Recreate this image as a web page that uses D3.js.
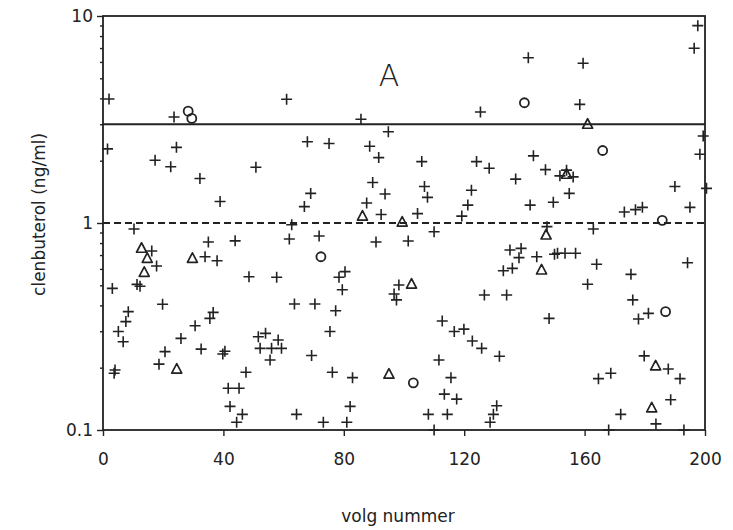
<!DOCTYPE html>
<html>
<head>
<meta charset="utf-8">
<script src="https://cdn.jsdelivr.net/npm/d3@7"></script>
<style>
  body { margin: 0; background: #fff; }
  text { font-family: "DejaVu Sans", sans-serif; fill: #222; }
</style>
</head>
<body>
<div id="chart"></div>
<script>
// volg nummer, clenbuterol (ng/ml)
const plusPoints = [
  [2, 3.97], [23.6, 3.25], [61, 3.96], [85.7, 3.17], [94.8, 2.76], [125.4, 3.44], [141.3, 6.29],
  [159.5, 5.91], [158.4, 3.74], [197.6, 8.98], [196.4, 6.98],
  [1.5, 2.28], [17.3, 2.01], [22.5, 1.87], [24.4, 2.32], [32.2, 1.64], [38.9, 1.27], [50.8, 1.86],
  [67.9, 2.47], [75.1, 2.42], [88.6, 2.35], [91.6, 2.07], [89.6, 1.57], [93.7, 1.38], [69, 1.39],
  [66.9, 1.2], [87.6, 1.25], [92.4, 1.1], [105.9, 1.98], [124.1, 1.98], [128.3, 1.84], [143, 2.11],
  [147, 1.81], [137.1, 1.63], [106.8, 1.5], [107.8, 1.33], [122.4, 1.44], [121.2, 1.22], [104.5, 1.11],
  [119.2, 1.08], [141.9, 1.22], [149.6, 1.26], [199.4, 2.63], [198.3, 2.15], [200.5, 1.47],
  [151.8, 1.69], [156.2, 1.67], [154, 1.8], [154.9, 1.39], [190, 1.5], [173.2, 1.13], [176.9, 1.16],
  [179.2, 1.19], [195, 1.19],
  [10.3, 0.935], [16.2, 0.732], [17.8, 0.62], [11.3, 0.505], [12.3, 0.495], [3.1, 0.483], [35, 0.81],
  [43.9, 0.82], [33.9, 0.687], [37.9, 0.657], [48.5, 0.55], [19.8, 0.405], [8.4, 0.373], [7.6, 0.334],
  [5.1, 0.299], [6.7, 0.267], [4, 0.195], [3.7, 0.188], [36.6, 0.37], [35.5, 0.346], [30.6, 0.319],
  [25.9, 0.277], [20.6, 0.239], [18.6, 0.208], [32.6, 0.246], [39.8, 0.233], [40.5, 0.24], [47.5, 0.19],
  [41.6, 0.159], [45.2, 0.159], [42.2, 0.13], [46.3, 0.119], [44.4, 0.109],
  [62.7, 0.98], [61.9, 0.837], [71.8, 0.865], [90.7, 0.81], [57.7, 0.547], [80.4, 0.582], [78.4, 0.547],
  [79.5, 0.476], [98.3, 0.502], [96.7, 0.454], [97.5, 0.425], [63.6, 0.406], [70.4, 0.406], [77.3, 0.377],
  [75.4, 0.299], [51.6, 0.282], [54, 0.293], [58.2, 0.272], [52.2, 0.248], [56, 0.248], [59.3, 0.248],
  [55.5, 0.218], [69.3, 0.229], [76.2, 0.19], [82.9, 0.179], [82.1, 0.13], [64.3, 0.119], [73.2, 0.109],
  [81, 0.109],
  [110, 0.908], [101.4, 0.818], [147.5, 0.96], [135.2, 0.741], [138.9, 0.754], [138.2, 0.68], [144.1, 0.687],
  [133, 0.588], [136, 0.604], [150, 0.706], [126.7, 0.449], [134.1, 0.449], [148.2, 0.346], [112.7, 0.336],
  [116.7, 0.299], [119.9, 0.307], [122.7, 0.269], [125.8, 0.248], [131.7, 0.227], [111.6, 0.218],
  [115.6, 0.179], [113.4, 0.149], [117.5, 0.141], [108.1, 0.119], [114.4, 0.119], [130.8, 0.131],
  [129.7, 0.119], [128.6, 0.109], [110, 0.1],
  [162.9, 0.935], [151, 0.714], [153.5, 0.714], [157, 0.714], [164, 0.632], [161, 0.506], [175.4, 0.565],
  [176, 0.425], [177.9, 0.344], [181.2, 0.366], [194.2, 0.643], [179.8, 0.228], [187.8, 0.197],
  [191.7, 0.177], [164.6, 0.177], [168.7, 0.188], [188.6, 0.14], [183.7, 0.107], [172, 0.119],
  [168, 0.1], [193, 0.1]
];
const circlePoints = [
  [28.3, 3.47], [29.5, 3.2], [140, 3.81], [166, 2.24], [185.8, 1.03], [72.4, 0.687], [103.1, 0.169], [186.9, 0.373]
];
const trianglePoints = [
  [161, 3.0], [154, 1.72], [86.2, 1.08], [99.4, 1.01], [12.8, 0.755], [14.7, 0.675], [13.7, 0.578],
  [29.7, 0.675], [24.5, 0.197], [102.5, 0.507], [95, 0.186], [147.2, 0.875], [145.7, 0.593],
  [183.6, 0.204], [182.3, 0.128]
];
const xTicks = [0, 40, 80, 120, 160, 200];
const yTicks = [0.1, 1, 10];
const solidLevel = 3;
const dashedLevel = 1;

const width = 733, height = 530;
const margin = { top: 16, right: 28, bottom: 100, left: 103 };
const ink = '#222';

const svg = d3.select('#chart').append('svg')
  .attr('width', width).attr('height', height);

const x = d3.scaleLinear().domain([0, 200]).range([margin.left, width - margin.right]);
const y = d3.scaleLog().domain([0.1, 10]).range([height - margin.bottom, margin.top]);

// frame
svg.append('rect')
  .attr('x', x(0)).attr('y', y(10))
  .attr('width', x(200) - x(0)).attr('height', y(0.1) - y(10))
  .attr('fill', 'none').attr('stroke', ink).attr('stroke-width', 1.8);

// x axis
const gx = svg.append('g')
  .attr('transform', `translate(0,${y(0.1)})`)
  .call(d3.axisBottom(x).tickValues(xTicks).tickSize(6).tickPadding(17).tickFormat(d3.format('d')));
gx.select('.domain').remove();
gx.selectAll('line').attr('stroke', ink).attr('stroke-width', 1.4);
gx.selectAll('text').style('font-size', '17px').attr('fill', ink);

// y axis, minor ticks first
const minor = [];
[0.1, 1].forEach(b => { for (let k = 2; k <= 9; k++) minor.push(b * k); });
const gyMinor = svg.append('g')
  .attr('transform', `translate(${x(0)},0)`)
  .call(d3.axisLeft(y).tickValues(minor).tickSize(3).tickFormat(''));
gyMinor.select('.domain').remove();
gyMinor.selectAll('line').attr('stroke', ink).attr('stroke-width', 1.4);

const gy = svg.append('g')
  .attr('transform', `translate(${x(0)},0)`)
  .call(d3.axisLeft(y).tickValues(yTicks).tickSize(6).tickPadding(4).tickFormat(d => d < 1 ? '0.1' : String(d)));
gy.select('.domain').remove();
gy.selectAll('line').attr('stroke', ink).attr('stroke-width', 1.4);
gy.selectAll('text').style('font-size', '17px').attr('fill', ink);

// reference lines
svg.append('line')
  .attr('x1', x(0)).attr('x2', x(200))
  .attr('y1', y(solidLevel)).attr('y2', y(solidLevel))
  .attr('stroke', ink).attr('stroke-width', 2);
svg.append('line')
  .attr('x1', x(0)).attr('x2', x(200))
  .attr('y1', y(dashedLevel)).attr('y2', y(dashedLevel))
  .attr('stroke', ink).attr('stroke-width', 2).attr('stroke-dasharray', '7,4');

// markers
const plus = 'M-5.5,0H5.5M0,-5.5V5.5';
svg.append('g').selectAll('path')
  .data(plusPoints)
  .join('path')
    .attr('transform', d => `translate(${x(d[0])},${y(d[1])})`)
    .attr('d', plus)
    .attr('fill', 'none').attr('stroke', ink).attr('stroke-width', 1.6);

svg.append('g').selectAll('circle')
  .data(circlePoints)
  .join('circle')
    .attr('cx', d => x(d[0])).attr('cy', d => y(d[1]))
    .attr('r', 4.5)
    .attr('fill', 'none').attr('stroke', ink).attr('stroke-width', 1.8);

const tri = 'M0,-5.5L5,4L-5,4Z';
svg.append('g').selectAll('path')
  .data(trianglePoints)
  .join('path')
    .attr('transform', d => `translate(${x(d[0])},${y(d[1])})`)
    .attr('d', tri)
    .attr('fill', 'none').attr('stroke', ink).attr('stroke-width', 1.7).attr('stroke-linejoin', 'round');

// panel letter
svg.append('text')
  .attr('x', x(95)).attr('y', 86)
  .attr('text-anchor', 'middle')
  .style('font-size', '30px').style('font-weight', '300')
  .text('A');

// axis titles
svg.append('text')
  .attr('x', x(98)).attr('y', 522)
  .attr('text-anchor', 'middle')
  .style('font-size', '17px')
  .text('volg nummer');

svg.append('text')
  .attr('transform', `translate(45,${y(1.1)}) rotate(-90)`)
  .attr('text-anchor', 'middle')
  .style('font-size', '17px')
  .text('clenbuterol (ng/ml)');
</script>
</body>
</html>
